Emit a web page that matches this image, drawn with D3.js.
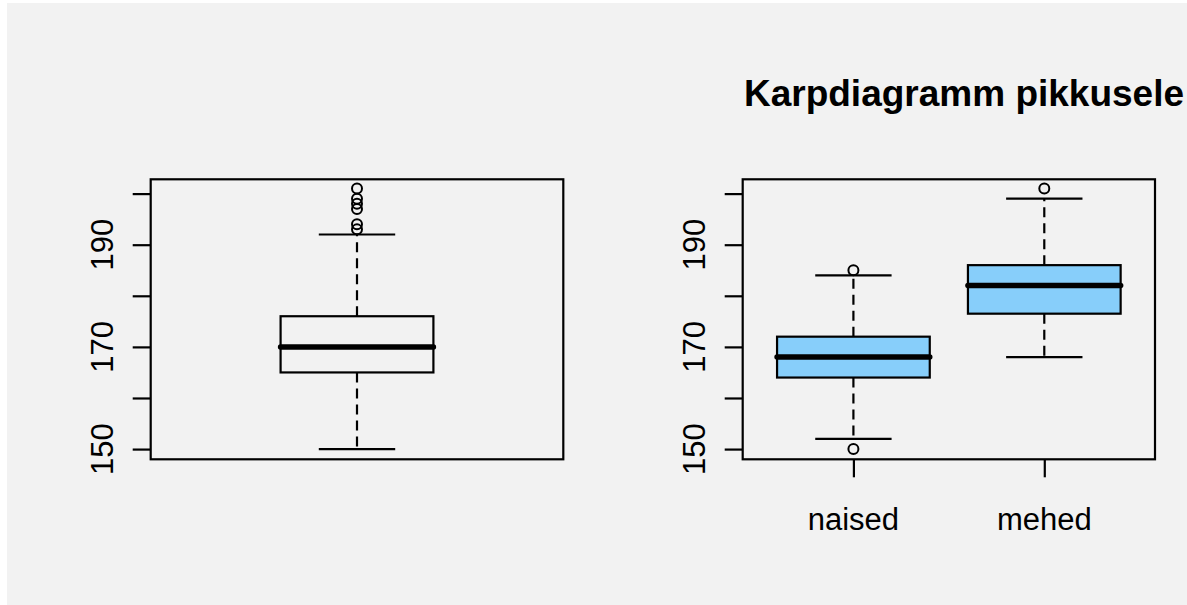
<!DOCTYPE html>
<html>
<head>
<meta charset="utf-8">
<script src="https://cdn.jsdelivr.net/npm/d3@7"></script>
<style>
    body { margin: 0; background: #ffffff; }
    svg { display: block; font-family: "Liberation Sans", Arial, sans-serif; }
</style>
</head>
<body>
<div class="chart"></div>
<script>
(function () {
    // kõik pikkused koos (vasak paneel)
    const allStats = { q1: 165, median: 170, q3: 176, lo: 150, hi: 192 };
    const allOutliers = [201, 199, 198, 197, 194, 193];

    // sugude kaupa (parem paneel)
    const groups = ['naised', 'mehed'];
    const groupQ1 = [164, 176.5];
    const groupMedian = [168, 182];
    const groupQ3 = [172, 186];
    const groupLo = [152, 168];
    const groupHi = [184, 199];
    const groupOutliers = [[185, 150], [201]];

    const yTicks = [150, 160, 170, 180, 190, 200];
    const yLabels = [150, 170, 190];
    const title = 'Karpdiagramm pikkusele';

    const width = 1187, height = 605;
    const top = 179.3, bottom = 459.3;
    const fontSize = 31;

    let svg = d3.select('.chart').append('svg')
        .attr('width', width)
        .attr('height', height);

    svg.append('rect')
        .attr('x', 7).attr('y', 3)
        .attr('width', width - 7).attr('height', height - 3)
        .attr('fill', '#f2f2f2');

    const y = d3.scaleLinear().domain([148, 202.8]).range([bottom, top]);

    function drawPanel(left, right, xDomain) {
        const x = d3.scaleLinear().domain(xDomain).range([left, right]);
        let g = svg.append('g');

        // y axis
        let yAxis = d3.axisLeft(y).tickValues(yTicks).tickSize(18).tickFormat('');
        let ya = g.append('g')
            .attr('transform', `translate(${left},0)`)
            .call(yAxis);
        ya.select('.domain').remove();
        ya.selectAll('.tick line').attr('stroke', '#000').attr('stroke-width', 2.2);

        g.selectAll('text.ylab')
            .data(yLabels)
            .enter().append('text')
            .attr('class', 'ylab')
            .attr('transform', d => `translate(${left - 38},${y(d)}) rotate(-90)`)
            .attr('text-anchor', 'middle')
            .attr('font-size', fontSize)
            .text(d => d);

        g.append('rect')
            .attr('x', left).attr('y', top)
            .attr('width', right - left).attr('height', bottom - top)
            .attr('fill', 'none').attr('stroke', '#000').attr('stroke-width', 2.2);
        return { g: g, x: x };
    }

    function drawBox(g, cx, halfBox, halfCap, s, outliers, fill) {
        // vuntsid
        g.append('line')
            .attr('x1', cx).attr('x2', cx)
            .attr('y1', y(s.q3)).attr('y2', y(s.hi))
            .attr('stroke', '#000').attr('stroke-width', 2.2).attr('stroke-dasharray', '10,6');
        g.append('line')
            .attr('x1', cx).attr('x2', cx)
            .attr('y1', y(s.q1)).attr('y2', y(s.lo))
            .attr('stroke', '#000').attr('stroke-width', 2.2).attr('stroke-dasharray', '10,6');
        [s.hi, s.lo].forEach(function (v) {
            g.append('line')
                .attr('x1', cx - halfCap).attr('x2', cx + halfCap)
                .attr('y1', y(v)).attr('y2', y(v))
                .attr('stroke', '#000').attr('stroke-width', 2.2);
        });
        g.append('rect')
            .attr('x', cx - halfBox).attr('y', y(s.q3))
            .attr('width', halfBox * 2).attr('height', y(s.q1) - y(s.q3))
            .attr('fill', fill).attr('stroke', '#000').attr('stroke-width', 2.2);
        g.append('line')
            .attr('x1', cx - halfBox).attr('x2', cx + halfBox)
            .attr('y1', y(s.median)).attr('y2', y(s.median))
            .attr('stroke', '#000').attr('stroke-width', 5.5).attr('stroke-linecap', 'round');
        g.selectAll(null)
            .data(outliers)
            .enter().append('circle')
            .attr('cx', cx).attr('cy', d => y(d))
            .attr('r', 5)
            .attr('fill', 'none').attr('stroke', '#000').attr('stroke-width', 2);
    }

    // vasak paneel
    let p1 = drawPanel(150.7, 563.3, [0.46, 1.54]);
    let u1 = p1.x(1) - p1.x(0);
    drawBox(p1.g, p1.x(1), u1 * 0.2, u1 * 0.1, allStats, allOutliers, 'none');

    // parem paneel
    let p2 = drawPanel(742.7, 1155, [0.42, 2.58]);
    let u2 = p2.x(1) - p2.x(0);
    groups.forEach(function (name, i) {
        let s = { q1: groupQ1[i], median: groupMedian[i], q3: groupQ3[i], lo: groupLo[i], hi: groupHi[i] };
        drawBox(p2.g, p2.x(i + 1), u2 * 0.4, u2 * 0.2, s, groupOutliers[i], '#87cefa');
    });

    let xAxis = d3.axisBottom(p2.x).tickValues([1, 2]).tickSize(18).tickFormat('');
    let xa = p2.g.append('g')
        .attr('transform', `translate(0,${bottom})`)
        .call(xAxis);
    xa.select('.domain').remove();
    xa.selectAll('.tick line').attr('stroke', '#000').attr('stroke-width', 2.2);

    p2.g.selectAll('text.xlab')
        .data(groups)
        .enter().append('text')
        .attr('class', 'xlab')
        .attr('x', (d, i) => p2.x(i + 1))
        .attr('y', 530)
        .attr('text-anchor', 'middle')
        .attr('font-size', fontSize)
        .text(d => d);

    svg.append('text')
        .attr('x', 964)
        .attr('y', 106)
        .attr('text-anchor', 'middle')
        .attr('font-size', 37)
        .attr('font-weight', 'bold')
        .text(title);
})();
</script>
</body>
</html>
